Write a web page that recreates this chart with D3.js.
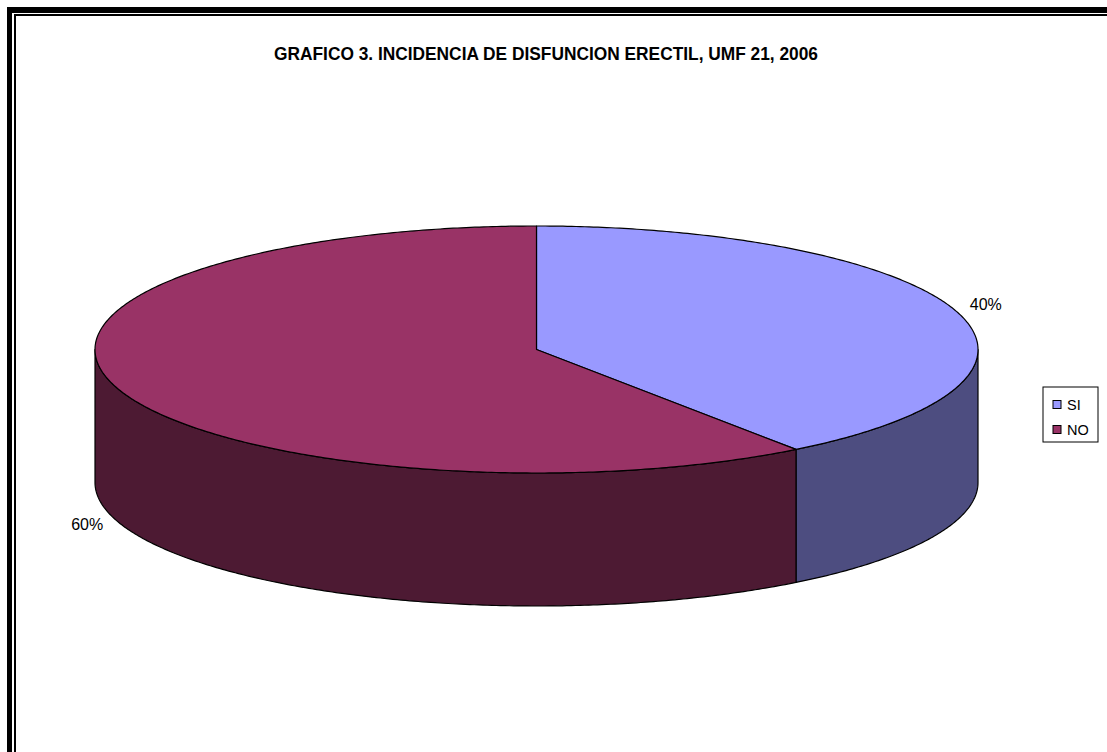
<!DOCTYPE html>
<html>
<head>
<meta charset="utf-8">
<script src="https://cdn.jsdelivr.net/npm/d3@7"></script>
<style>
  body { margin: 0; background: #fff; }
  text { font-family: "Liberation Sans", Arial, sans-serif; }
</style>
</head>
<body>
<div id="chart"></div>
<script>
// data
var categories = ['SI', 'NO'];
var values = [40, 60];
var labels = ['40%', '60%'];
var topColors = ['#9999ff', '#993366'];
var sideColors = ['#4d4d80', '#4d1a33'];
var title = 'GRAFICO 3. INCIDENCIA DE DISFUNCION ERECTIL, UMF 21, 2006';

var W = 1107, H = 752;
var cx = 536.5, cy = 349.5, rx = 441.5, ry = 123.5, depth = 133;

var svg = d3.select('#chart').append('svg')
    .attr('width', W)
    .attr('height', H);

// frame (left + top only, the rest is cut off)
svg.append('rect').attr('x', 7).attr('y', 7).attr('width', W).attr('height', 6).attr('fill', '#000');
svg.append('rect').attr('x', 7).attr('y', 7).attr('width', 5).attr('height', H).attr('fill', '#000');
svg.append('rect').attr('x', 14).attr('y', 14).attr('width', W).attr('height', 2).attr('fill', '#000');
svg.append('rect').attr('x', 14).attr('y', 14).attr('width', 2).attr('height', H).attr('fill', '#000');

// title, a little taller than wide like the original
svg.append('g')
    .attr('transform', 'translate(546,60) scale(1,1.12)')
  .append('text')
    .attr('text-anchor', 'middle')
    .attr('font-size', 17)
    .attr('font-weight', 'bold')
    .attr('textLength', 544)
    .attr('lengthAdjust', 'spacingAndGlyphs')
    .text(title);

var pie = d3.pie().sort(null).value(function (d) { return d; });
var arcs = pie(values);

// angle 0 = 12 o'clock, clockwise
function ex(a, k) { return cx + (k || 1) * rx * Math.sin(a); }
function ey(a, k) { return cy - (k || 1) * ry * Math.cos(a); }

var line = d3.line();

function sample(a0, a1, dy) {
    var pts = [];
    var n = Math.max(2, Math.ceil(Math.abs(a1 - a0) / 0.01));
    for (var i = 0; i <= n; i++) {
        var a = a0 + (a1 - a0) * i / n;
        pts.push([ex(a), ey(a) + (dy || 0)]);
    }
    return pts;
}

var g = svg.append('g');

// sides (front half: PI/2 .. 3PI/2)
arcs.forEach(function (d, i) {
    var a0 = Math.max(d.startAngle, Math.PI / 2);
    var a1 = Math.min(d.endAngle, 3 * Math.PI / 2);
    if (a1 <= a0) return;
    var pts = sample(a0, a1, 0).concat(sample(a1, a0, depth));
    g.append('path')
        .attr('d', line(pts) + 'Z')
        .attr('fill', sideColors[i])
        .attr('stroke', '#000')
        .attr('stroke-width', 1.2)
        .attr('stroke-linejoin', 'round');
});

// tops
arcs.forEach(function (d, i) {
    var pts = [[cx, cy]].concat(sample(d.startAngle, d.endAngle, 0));
    g.append('path')
        .attr('d', line(pts) + 'Z')
        .attr('fill', topColors[i])
        .attr('stroke', '#000')
        .attr('stroke-width', 1.2)
        .attr('stroke-linejoin', 'round');
});

// labels
arcs.forEach(function (d, i) {
    var a = (d.startAngle + d.endAngle) / 2;
    var k = 1.07;
    var y = ey(a, k);
    var lower = Math.cos(a) < 0;
    if (lower) y += depth;
    g.append('text')
        .attr('x', ex(a, k))
        .attr('y', y)
        .attr('dy', lower ? '0.42em' : '0.08em')
        .attr('text-anchor', 'middle')
        .attr('font-size', 16)
        .text(labels[i]);
});

// legend
var lg = svg.append('g').attr('transform', 'translate(1043,387)');
lg.append('rect')
    .attr('width', 55).attr('height', 55)
    .attr('fill', '#fff').attr('stroke', '#000').attr('stroke-width', 1);
categories.forEach(function (c, i) {
    var y = 17.5 + i * 25;
    lg.append('rect')
        .attr('x', 10).attr('y', y - 4)
        .attr('width', 8).attr('height', 8)
        .attr('fill', topColors[i]).attr('stroke', '#000').attr('stroke-width', 1);
    lg.append('text')
        .attr('x', 24).attr('y', y)
        .attr('dy', '0.36em')
        .attr('font-size', 14.5)
        .text(c);
});
</script>
</body>
</html>
